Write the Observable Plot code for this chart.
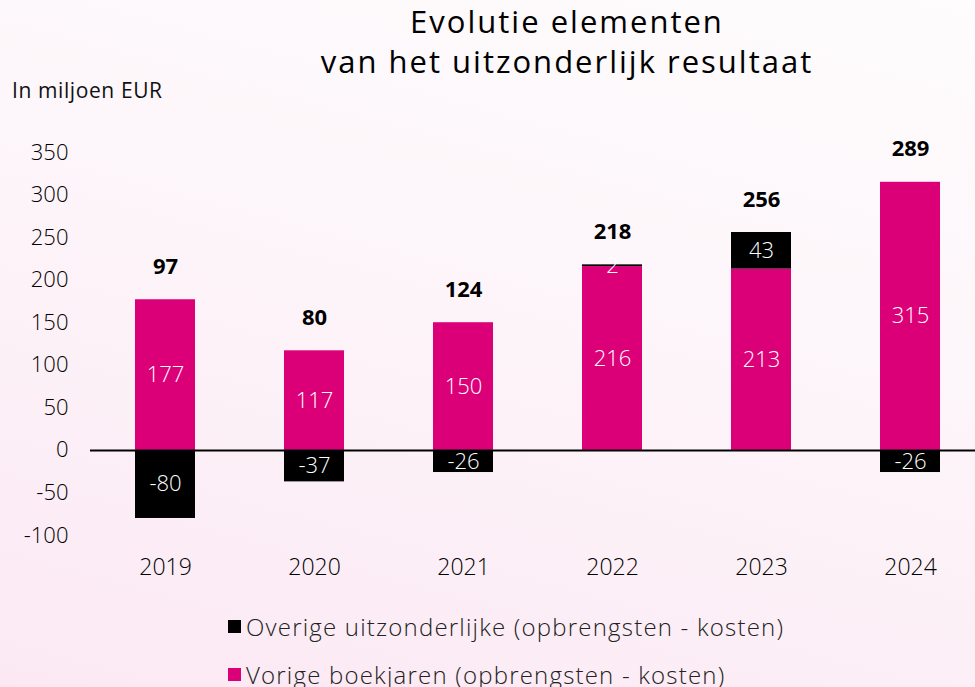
<!DOCTYPE html>
<html><head><meta charset="utf-8">
<script src="https://cdn.jsdelivr.net/npm/d3@7"></script>
<script src="https://cdn.jsdelivr.net/npm/@observablehq/plot@0.6"></script>
<style>
html,body{margin:0;padding:0;}
body{width:975px;height:687px;overflow:hidden;position:relative;
 background:linear-gradient(195deg,#fefcfd 0%,#fdf6fa 40%,#fceef6 75%,#fbe8f3 100%);
 font-family:"Open Sans",sans-serif;color:#000;}
#title{position:absolute;top:1px;left:567px;transform:translateX(-50%);text-align:center;white-space:nowrap;
 font-size:31px;line-height:40px;font-weight:400;letter-spacing:2px;}
#unit{position:absolute;top:76px;left:12px;font-size:21px;font-weight:400;color:#111;letter-spacing:0.6px;}
#chart{position:absolute;top:100px;left:0;}
.leg{position:absolute;left:228px;font-size:24px;font-weight:300;color:#222;display:flex;align-items:center;white-space:nowrap;letter-spacing:1.2px;}
.sw{width:13px;height:13px;display:inline-block;margin-right:5px;}
</style></head><body>
<div id="title">Evolutie elementen<br>van het uitzonderlijk resultaat</div>
<div id="unit">In miljoen EUR</div>
<div id="chart"></div>
<div class="leg" style="top:610px"><span class="sw" style="background:#000"></span>Overige uitzonderlijke (opbrengsten - kosten)</div>
<div class="leg" style="top:658px"><span class="sw" style="background:#dc0078"></span>Vorige boekjaren (opbrengsten - kosten)</div>
<script>
const years = ["2019","2020","2021","2022","2023","2024"];
const vorige = [177,117,150,216,213,315];
const overige = [-80,-37,-26,2,43,-26];
const totals = [97,80,124,218,256,289];
const yTicks = [-100,-50,0,50,100,150,200,250,300,350];
const PINK = "#dc0078";

const segs = [];
years.forEach((yr,i)=>{
  segs.push({year:yr, series:"Vorige", y1:0, y2:vorige[i], v:vorige[i]});
  const b = overige[i];
  if (b >= 0) segs.push({year:yr, series:"Overige", y1:vorige[i], y2:vorige[i]+b, v:b});
  else segs.push({year:yr, series:"Overige", y1:b, y2:0, v:b});
});
const tops = years.map((yr,i)=>({year:yr, top:vorige[i]+Math.max(0,overige[i]), total:totals[i]}));

const plot = Plot.plot({
  width:975, height:490,
  marginLeft:90, marginRight:0, marginTop:52, marginBottom:55,
  style:{background:"transparent", fontFamily:"Open Sans, sans-serif"},
  x:{domain:years, range:[90.5,984.5], paddingInner:0.6, paddingOuter:0.3, label:null},
  y:{domain:[-100,350], label:null},
  color:{domain:["Vorige","Overige"], range:[PINK,"#000"]},
  marks:[
    Plot.axisY({ticks:yTicks, tickSize:0, tickPadding:22, fontSize:22, fontWeight:300, label:null, tickFormat:d=>String(d)}),
    Plot.axisX({tickSize:0, tickPadding:23, fontSize:23, fontWeight:300, label:null}),
    Plot.barY(segs,{x:"year", y1:"y1", y2:"y2", fill:"series"}),
    Plot.text(segs,{x:"year", y:d=>(d.y1+d.y2)/2, text:d=>String(d.v), fill:"white", fontSize:22, fontWeight:300}),
    Plot.text(tops,{x:"year", y:"top", dy:-33, text:d=>String(d.total), fill:"black", fontSize:22, fontWeight:700}),
    Plot.ruleY([0],{stroke:"black", strokeWidth:2})
  ]
});
plot.style.overflow = "visible";
document.getElementById("chart").append(plot);
</script>
</body></html>
